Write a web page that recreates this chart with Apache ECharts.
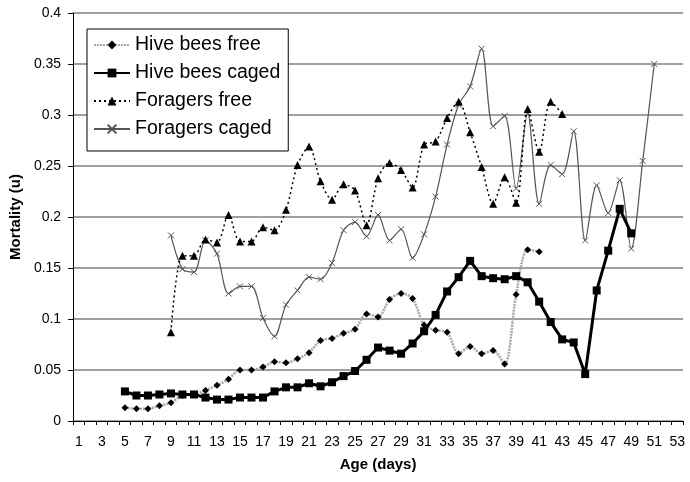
<!DOCTYPE html>
<html>
<head>
<meta charset="utf-8">
<script src="https://cdn.jsdelivr.net/npm/echarts@6/dist/echarts.min.js"></script>
<style>
  html, body { margin: 0; padding: 0; background: #fff; }
  #chart { width: 690px; height: 482px; }
</style>
</head>
<body>
<div id="chart"></div>
<script>
  // age in days, 1..53
  var days = []
  for (var d = 1; d <= 53; d++) days.push(String(d))

  // each series starts at a given day
  var hiveFreeStart = 5
  var hiveFree = [0.013, 0.012, 0.012, 0.015, 0.018, 0.025, 0.026, 0.030, 0.035, 0.041,
    0.050, 0.050, 0.053, 0.058, 0.057, 0.061, 0.067, 0.079, 0.081, 0.086,
    0.090, 0.105, 0.102, 0.119, 0.125, 0.120, 0.094, 0.089, 0.087, 0.066,
    0.073, 0.066, 0.069, 0.056, 0.124, 0.168, 0.166]

  var hiveCagedStart = 5
  var hiveCaged = [0.029, 0.025, 0.025, 0.026, 0.027, 0.026, 0.026, 0.023, 0.021, 0.021,
    0.023, 0.023, 0.023, 0.029, 0.033, 0.033, 0.037, 0.034, 0.038, 0.044,
    0.049, 0.060, 0.072, 0.069, 0.066, 0.076, 0.088, 0.104, 0.127, 0.141,
    0.157, 0.142, 0.140, 0.139, 0.142, 0.136, 0.117, 0.097, 0.080, 0.077,
    0.046, 0.128, 0.167, 0.208, 0.184]

  var forFreeStart = 9
  var forFree = [0.087, 0.162, 0.162, 0.178, 0.175, 0.202, 0.176, 0.176, 0.190, 0.187,
    0.207, 0.251, 0.269, 0.235, 0.217, 0.232, 0.226, 0.192, 0.238, 0.253,
    0.246, 0.229, 0.271, 0.274, 0.297, 0.313, 0.283, 0.249, 0.213, 0.239,
    0.214, 0.306, 0.264, 0.313, 0.301]

  var forCagedStart = 9
  var forCaged = [0.182, 0.149, 0.146, 0.177, 0.164, 0.125, 0.132, 0.132, 0.101, 0.083,
    0.114, 0.128, 0.141, 0.139, 0.155, 0.187, 0.195, 0.181, 0.202, 0.177,
    0.188, 0.160, 0.183, 0.220, 0.271, 0.310, 0.328, 0.365, 0.289, 0.299,
    0.228, 0.302, 0.213, 0.251, 0.242, 0.284, 0.177, 0.231, 0.204, 0.236,
    0.169, 0.255, 0.350]

  function pad (start, vals) {
    var out = []
    for (var i = 1; i <= 53; i++) {
      var k = i - start
      out.push(k >= 0 && k < vals.length ? vals[k] : null)
    }
    return out
  }

  var chart = echarts.init(document.getElementById('chart'))
  var font = 'Liberation Sans, Arial, sans-serif'
  var option = {
    animation: false,
    textStyle: { fontFamily: font },
    grid: { left: 68, right: 7, top: 13, bottom: 61 },
    legend: {
      orient: 'vertical',
      left: 87,
      top: 29,
      padding: [6, 8, 12, 6],
      itemWidth: 36,
      itemHeight: 11,
      itemGap: 8,
      borderColor: '#000',
      borderWidth: 1,
      backgroundColor: '#fff',
      textStyle: { fontSize: 19.5, color: '#000', fontFamily: font },
      data: ['Hive bees free', 'Hive bees caged', 'Foragers free', 'Foragers caged']
    },
    xAxis: {
      type: 'category',
      data: days,
      boundaryGap: true,
      name: 'Age (days)',
      nameLocation: 'middle',
      nameGap: 36,
      nameTextStyle: { fontSize: 15, fontWeight: 'bold', color: '#000' },
      axisLine: { lineStyle: { color: '#000', width: 1 } },
      axisTick: { show: true, inside: false, length: 4, interval: 0, lineStyle: { color: '#000' } },
      axisLabel: { interval: 1, fontSize: 14, color: '#000', margin: 14 },
      splitLine: { show: false }
    },
    yAxis: {
      type: 'value',
      min: 0,
      max: 0.4,
      interval: 0.05,
      name: 'Mortality (u)',
      nameLocation: 'middle',
      nameRotate: 90,
      nameGap: 48,
      nameTextStyle: { fontSize: 15, fontWeight: 'bold', color: '#000' },
      axisLine: { show: true, lineStyle: { color: '#000', width: 1 } },
      axisTick: { show: true, length: 5, lineStyle: { color: '#000' } },
      axisLabel: { fontSize: 14, color: '#000', margin: 12 },
      splitLine: { show: true, lineStyle: { color: '#808080', width: 1.5 } }
    },
    series: [{
      name: 'Hive bees free',
      type: 'line',
      smooth: 0.3,
      showAllSymbol: true,
      data: pad(hiveFreeStart, hiveFree),
      symbol: 'diamond',
      symbolSize: 7,
      itemStyle: { color: '#000' },
      lineStyle: { color: '#a8a8a8', width: 2.5, type: [2, 1] },
      z: 3
    }, {
      name: 'Hive bees caged',
      type: 'line',
      showAllSymbol: true,
      data: pad(hiveCagedStart, hiveCaged),
      symbol: 'rect',
      symbolSize: 8,
      itemStyle: { color: '#000' },
      lineStyle: { color: '#000', width: 3 },
      z: 4
    }, {
      name: 'Foragers free',
      type: 'line',
      smooth: 0.3,
      showAllSymbol: true,
      data: pad(forFreeStart, forFree),
      symbol: 'triangle',
      symbolSize: 8,
      itemStyle: { color: '#000' },
      lineStyle: { color: '#000', width: 1.5, type: [2, 3] },
      z: 2
    }, {
      name: 'Foragers caged',
      type: 'line',
      smooth: 0.3,
      showAllSymbol: true,
      data: pad(forCagedStart, forCaged),
      symbol: 'path://M0,0L10,10M10,0L0,10',
      symbolSize: 6,
      itemStyle: { color: 'none', borderColor: '#555', borderWidth: 1 },
      lineStyle: { color: '#555', width: 1.2 },
      z: 1
    }]
  }
  chart.setOption(option)
</script>
</body>
</html>
